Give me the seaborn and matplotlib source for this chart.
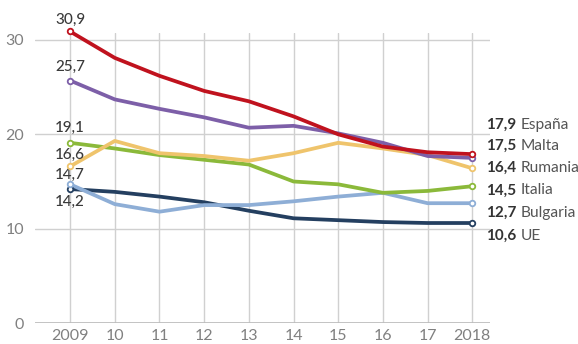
import pandas as pd
import numpy as np
import matplotlib
matplotlib.use("Agg")
import matplotlib.pyplot as plt
import seaborn as sns

years = [2009, 2010, 2011, 2012, 2013, 2014, 2015, 2016, 2017, 2018]
year_labels = ["2009", "10", "11", "12", "13", "14", "15", "16", "17", "2018"]

espana   = [30.9, 28.1, 26.2, 24.6, 23.5, 21.9, 20.0, 18.7, 18.1, 17.9]
malta    = [25.7, 23.7, 22.7, 21.8, 20.7, 20.9, 20.1, 19.1, 17.7, 17.5]
rumania  = [16.6, 19.3, 18.0, 17.7, 17.2, 18.0, 19.1, 18.5, 17.8, 16.4]
italia   = [19.1, 18.5, 17.8, 17.3, 16.8, 15.0, 14.7, 13.8, 14.0, 14.5]
bulgaria = [14.7, 12.6, 11.8, 12.5, 12.5, 12.9, 13.4, 13.8, 12.7, 12.7]
ue       = [14.2, 13.9, 13.4, 12.8, 11.9, 11.1, 10.9, 10.7, 10.6, 10.6]

countries = ["España", "Malta", "Rumania", "Italia", "Bulgaria", "UE"]
series = [espana, malta, rumania, italia, bulgaria, ue]
colors = {
    "España": "#c0121e",
    "Malta": "#7d5fa8",
    "Rumania": "#efc46c",
    "Italia": "#8bb93a",
    "Bulgaria": "#8eaed6",
    "UE": "#243f60",
}

df = pd.DataFrame({
    "year": np.tile(years, len(countries)),
    "value": np.concatenate(series),
    "country": np.repeat(countries, len(years)),
})

sns.set_theme(style="whitegrid")
plt.rcParams["font.family"] = ["Lato", "DejaVu Sans"]

fig = plt.figure(figsize=(5.78, 3.44), dpi=100)
ax = fig.add_axes([0.061, 0.061, 0.787, 0.842])

# draw back-to-front so España sits on top
draw_order = ["UE", "Bulgaria", "Italia", "Rumania", "Malta", "España"]
sns.lineplot(
    data=df, x="year", y="value", hue="country", hue_order=draw_order,
    palette=colors, linewidth=2.7, legend=False, ax=ax, clip_on=False,
)
for c in draw_order:
    vals = df[df["country"] == c]
    ends = vals.iloc[[0, -1]]
    ax.scatter(ends["year"], ends["value"], s=16, facecolor="white",
               edgecolor=colors[c], linewidth=1.3, zorder=5, clip_on=False)

ax.set_xlim(2008.22, 2018.4)
ax.set_ylim(0, 30.7)
ax.set_xticks(years)
ax.set_xticklabels(year_labels)
ax.set_yticks([0, 10, 20, 30])
ax.set_xlabel("")
ax.set_ylabel("")
ax.grid(True, color="#d0d0d0", linewidth=1)
for s in ax.spines.values():
    s.set_visible(False)
ax.axhline(0, color="#bbbbbb", linewidth=1.2, zorder=1)
ax.tick_params(axis="both", colors="#808080", labelsize=11.5, length=0, pad=4)
ax.tick_params(axis="y", pad=8)

# start labels (2009), offsets in points from the first point
start_offsets = {"España": 8, "Malta": 10, "Italia": 10.5, "Rumania": 8.6,
                 "Bulgaria": 7, "UE": -9}
for c, vals in zip(countries, series):
    ax.annotate(f"{vals[0]:.1f}".replace(".", ","), xy=(years[0], vals[0]),
                xytext=(0, start_offsets[c]), textcoords="offset points",
                ha="center", va="center", fontsize=11, color="#3a3a3a",
                fontweight="medium", annotation_clip=False)

# end labels (2018)
label_y = [21.0, 18.75, 16.4, 14.05, 11.65, 9.25]
for c, vals, ly in zip(countries, series, label_y):
    ax.text(2018.31, ly, f"{vals[-1]:.1f}".replace(".", ","), ha="left",
            va="center", fontsize=11, fontweight="bold", color="#333333",
            clip_on=False)
    ax.text(2019.08, ly, c, ha="left", va="center", fontsize=11.2,
            color="#555555", clip_on=False)

fig.savefig("out.png", dpi=100)
